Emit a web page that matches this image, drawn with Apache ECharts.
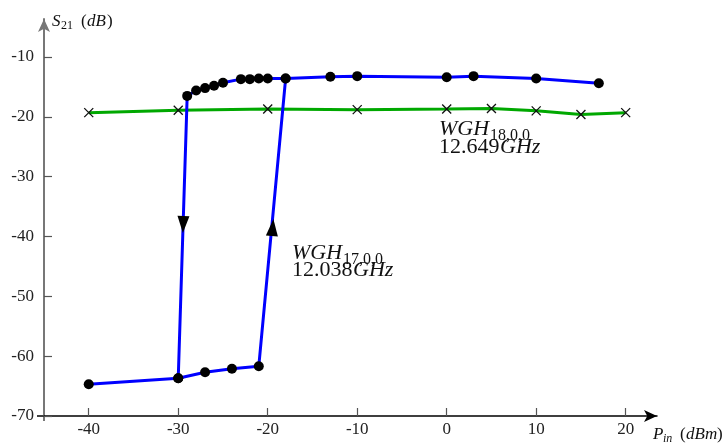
<!DOCTYPE html>
<html><head><meta charset="utf-8">
<script src="https://cdn.jsdelivr.net/npm/echarts@6/dist/echarts.min.js"></script>
<style>html,body{margin:0;padding:0;background:#fff}#c{width:725px;height:443px}</style>
</head><body><div id="c"></div>
<script>
const xTicks = [-40,-30,-20,-10,0,10,20];
const yTicks = [-70,-60,-50,-40,-30,-20,-10];
const lowerX = [-40,-30,-27,-24,-21];
const lowerY = [-64.7,-63.7,-62.7,-62.1,-61.7];
const upperX = [-29,-28,-27,-26,-25,-23,-22,-21,-20,-18,-13,-10,0,3,10,17];
const upperY = [-16.5,-15.6,-15.2,-14.8,-14.3,-13.7,-13.7,-13.6,-13.6,-13.6,-13.3,-13.2,-13.4,-13.2,-13.6,-14.4];
const greenX = [-40,-30,-20,-10,0,5,10,15,20];
const greenY = [-19.3,-18.9,-18.7,-18.8,-18.7,-18.6,-19.0,-19.6,-19.3];
const arrowDown = [-29.45,-38.0];
const arrowUp = [-19.45,-38.5];

const FONT = 'Liberation Serif';
const zip = (a,b)=>a.map((v,i)=>[v,b[i]]);
const lower = zip(lowerX, lowerY);
const upper = zip(upperX, upperY);
const jumpIdx = upperX.indexOf(-18);
const sweepUp = lower.concat([upper[jumpIdx]]);
const sweepDown = [lower[1]].concat(upper);

function txt(x, baseline, s, size, italic){
  return {type:'text', x:x, y:baseline - 0.34*size, z:100,
    style:{text:s, fill:'#111', font:(italic?'italic ':'')+size+'px "'+FONT+'"',
      textAlign:'left', textVerticalAlign:'middle'}};
}

const chart = echarts.init(document.getElementById('c'), null, {renderer:'canvas'});
chart.setOption({
  animation:false,
  grid:{left:44, right:68, top:19, bottom:27, containLabel:false},
  xAxis:{type:'value', min:-45, max:23.5,
    axisLine:{onZero:false, lineStyle:{color:'#000', width:1.5}, symbol:['none','arrow'], symbolSize:[9,13]},
    axisTick:{show:true, inside:true, length:8, customValues:xTicks, lineStyle:{color:'#555', width:1.2}},
    axisLabel:{customValues:xTicks, margin:5, color:'#222', fontFamily:FONT, fontSize:17},
    splitLine:{show:false}},
  yAxis:{type:'value', min:-70, max:-3.65,
    axisLine:{onZero:false, lineStyle:{color:'#777', width:2}, symbol:['none','arrow'], symbolSize:[9,13]},
    axisTick:{show:true, inside:true, length:8, customValues:yTicks, lineStyle:{color:'#555', width:1.2}},
    axisLabel:{customValues:yTicks, margin:10, color:'#222', fontFamily:FONT, fontSize:17},
    splitLine:{show:false}},
  series:[
    {type:'line', name:'WGH18', data:zip(greenX, greenY), z:2,
      lineStyle:{color:'#00a800', width:3},
      symbol:'path://M0,0L10,10M10,0L0,10', symbolSize:9,
      itemStyle:{color:'rgba(0,0,0,0)', borderColor:'#111', borderWidth:1.3}},
    {type:'line', name:'up', data:sweepUp, z:3,
      lineStyle:{color:'#0000ff', width:3},
      symbol:'circle', symbolSize:10, itemStyle:{color:'#000', borderWidth:0}},
    {type:'line', name:'down', data:sweepDown, z:3,
      lineStyle:{color:'#0000ff', width:3},
      symbol:'circle', symbolSize:10, itemStyle:{color:'#000', borderWidth:0}},
    {type:'scatter', name:'arrowDown', data:[arrowDown], z:4, symbol:'triangle', symbolSize:[12,17], symbolRotate:178, itemStyle:{color:'#000', opacity:1}},
    {type:'scatter', name:'arrowUp', data:[arrowUp], z:4, symbol:'triangle', symbolSize:[12,17], symbolRotate:-5, itemStyle:{color:'#000', opacity:1}}
  ],
  graphic:[
    {type:'line', shape:{x1:44,y1:416,x2:44,y2:421}, style:{stroke:'#777', lineWidth:2}},
    {type:'line', shape:{x1:37,y1:416,x2:44,y2:416}, style:{stroke:'#000', lineWidth:1.5}},
    txt(52, 27, 'S', 17, true),
    txt(61, 30, '21', 12, false),
    txt(81, 27, '(', 17, false),
    txt(87, 27, 'dB', 17, true),
    txt(107, 27, ')', 17, false),
    txt(653, 440, 'P', 17, true),
    txt(663, 443, 'in', 12, true),
    txt(680, 440, '(', 17, false),
    txt(686, 440, 'dBm', 17, true),
    txt(717, 440, ')', 17, false),
    txt(439, 137, 'WGH', 22, true),
    txt(490, 141, '18,0,0', 16, false),
    txt(439, 154.5, '12.649', 22, false),
    txt(500, 154.5, 'GHz', 22, true),
    txt(292, 261, 'WGH', 22, true),
    txt(343, 265, '17,0,0', 16, false),
    txt(292, 277.5, '12.038', 22, false),
    txt(353, 277.5, 'GHz', 22, true)
  ]
});
</script></body></html>
